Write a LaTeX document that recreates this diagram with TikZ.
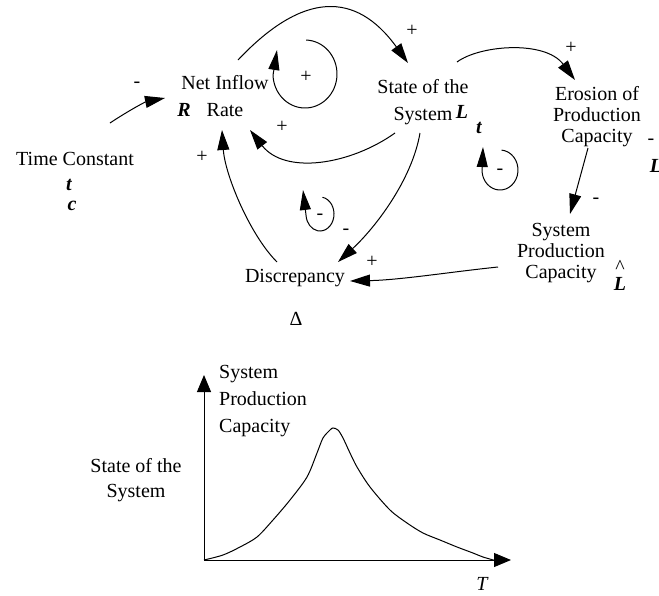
\documentclass[tikz,border=0pt]{standalone}
\usepackage{fontspec}
\setmainfont{Liberation Serif}
\usetikzlibrary{arrows.meta}
\begin{document}
\begin{tikzpicture}[x=1pt,y=-1pt,
  every node/.style={inner sep=0pt},
  var/.style={font=\fontsize{20}{27}\selectfont, align=center, anchor=base},
  vartight/.style={font=\fontsize{20}{21}\selectfont, align=center, anchor=base},
  sym/.style={font=\fontsize{20}{20}\selectfont\bfseries\itshape, anchor=base},
  sign/.style={font=\fontsize{20}{20}\selectfont},
  link/.style={line width=1pt, -{Triangle[length=20pt,width=12pt]}},
  loopmark/.style={line width=1pt, -{Triangle[length=20pt,width=11pt]}},
  axis/.style={line width=1pt, -{Triangle[length=17pt,width=14pt]}},
]
\useasboundingbox (0,0) rectangle (659,595);

% ---- causal loop diagram: variables (base = last line) ----
\node[var] (net) at (225,116) {Net Inflow\\Rate};
\node[sym] (r) at (184,116) {R};
\node[var] (tc) at (75,165) {Time Constant};
\node[sym] (tct) at (69,190) {t};
\node[sym] (tcc) at (72,210) {c};
\node[var] (state) at (423,120) {State of the\\System};
\node[sym] (lt) at (462,118) {L};
\node[sym] (ltt) at (479,133) {t};
\node[vartight] (ero) at (597,142) {Erosion of\\Production\\Capacity};
\node[sign] (barmark) at (651,142) {-};
\node[sym] (lbar) at (656,172) {L};
\node[vartight] (spc) at (561,278) {System\\Production\\Capacity};
\node[sym] (lhat) at (620,290) {L};
\node[sign, anchor=base] (hat) at (620,273) {\textasciicircum};
\node[var] (disc) at (295,282) {Discrepancy};
\node[var] (delta) at (296,325) {Δ};

% ---- causal links ----
\draw[link] ([shift={(35,-42)}]tc.base) .. controls +(18,-12) and +(-20,4) .. ([shift={(-60,-18)}]net.base);
\draw[link] ([shift={(13,-56)}]net.base) .. controls +(65,-69) and +(-52,-72) .. ([shift={(-15,-57)}]state.base);
\draw[link] ([shift={(-28,13)}]state.base) .. controls +(-45,32) and +(35,45) .. ([shift={(25,14)}]net.base);
\draw[link] ([shift={(-18,-20)}]disc.base) .. controls +(-27,-27) and +(3,45) .. ([shift={(-3,14)}]net.base);
\draw[link] ([shift={(-3,13)}]state.base) .. controls +(-8,47) and +(37,-34) .. ([shift={(43,-20)}]disc.base);
\draw[link] ([shift={(34,-58)}]state.base) .. controls +(23,-17) and +(-30,-40) .. ([shift={(-22,-62)}]ero.base);
\draw[link] ([shift={(-9,6)}]ero.base) -- ([shift={(9,-64)}]spc.base);
\draw[link] ([shift={(-63,-11)}]spc.base) .. controls +(-48,5) and +(50,-1) .. ([shift={(55,-1)}]disc.base);

% ---- loop polarity marks ----
\draw[loopmark] (305,74) ++(-88:32 and 34) arc[start angle=-88, end angle=178, x radius=32, y radius=34] -- (277,50);
\draw[loopmark] (320,214) ++(-80:14 and 17) arc[start angle=-80, end angle=175, x radius=14, y radius=17] -- (303,190);
\draw[loopmark] (500,170) ++(-85:18 and 20) arc[start angle=-85, end angle=175, x radius=18, y radius=20] -- (483,147);

% ---- link signs ----
\node[sign] (s1) at (137,85) {-};
\node[sign] (s2) at (412,31) {+};
\node[sign] (s3) at (306,77) {+};
\node[sign] (s4) at (282,127) {+};
\node[sign] (s5) at (202,157) {+};
\node[sign] (s6) at (320,217) {-};
\node[sign] (s7) at (346,232) {-};
\node[sign] (s8) at (372,262) {+};
\node[sign] (s9) at (500,172) {-};
\node[sign] (s10) at (571,48) {+};
\node[sign] (s11) at (596,201) {-};

% ---- production capacity over time ----
\coordinate (o) at (204,560);
\draw[axis] (o) -- (204,375);
\draw[axis] (o) -- (511,560);
\node[font=\fontsize{20}{27}\selectfont, align=left, anchor=base west] (ylab) at (219,432) {System\\Production\\Capacity};
\node[font=\fontsize{20}{25}\selectfont, align=center, anchor=base] (state2) at (136,497) {State of the\\System};
\node[font=\fontsize{20}{20}\selectfont\itshape, anchor=base] (tlab) at (482,590) {T};
\draw[line width=1pt] plot[smooth, tension=0.5] coordinates {
  (204,560) (223,555) (240,547) (257,537) (273,520) (290,500) (307,477)
  (317,453) (323,438) (330,430) (333,428) (338,430) (343,438) (350,453)
  (357,467) (370,487) (390,510) (407,523) (423,533) (440,540) (457,547)
  (473,553) (483,557) (497,561)};
\end{tikzpicture}
\end{document}
